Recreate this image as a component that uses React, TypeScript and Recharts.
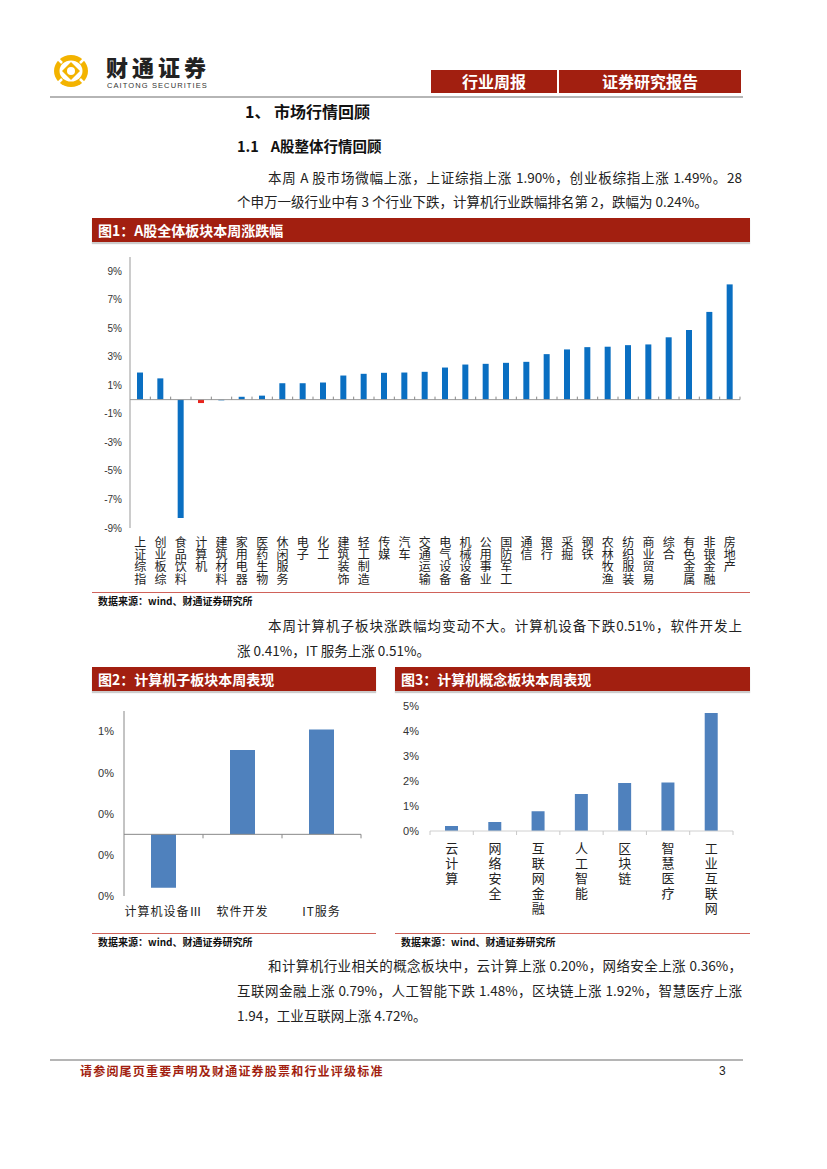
import React from "react";
import { BarChart, Bar, XAxis, YAxis, Cell, ReferenceLine } from "recharts";

// 图1 数据
const sectors = [
  "上证综指", "创业板综", "食品饮料", "计算机", "建筑材料", "家用电器", "医药生物", "休闲服务",
  "电子", "化工", "建筑装饰", "轻工制造", "传媒", "汽车", "交通运输", "电气设备", "机械设备",
  "公用事业", "国防军工", "通信", "银行", "采掘", "钢铁", "农林牧渔", "纺织服装", "商业贸易",
  "综合", "有色金属", "非银金融", "房地产",
];
const sectorChg = [
  1.9, 1.49, -8.3, -0.24, -0.05, 0.2, 0.28, 1.15, 1.15, 1.2, 1.69, 1.81, 1.88, 1.9, 1.95, 2.25, 2.46,
  2.51, 2.58, 2.65, 3.19, 3.52, 3.68, 3.71, 3.82, 3.87, 4.37, 4.88, 6.15, 8.08,
];
const sectorTicks = [-9, -7, -5, -3, -1, 1, 3, 5, 7, 9];

// 图2 数据
const subSectors = ["计算机设备Ⅲ", "软件开发", "IT服务"];
const subChg = [-0.26, 0.41, 0.51];
const subTicks = [-0.3, -0.1, 0.1, 0.3, 0.5];

// 图3 数据
const concepts = ["云计算", "网络安全", "互联网金融", "人工智能", "区块链", "智慧医疗", "工业互联网"];
const conceptChg = [0.2, 0.36, 0.79, 1.48, 1.92, 1.94, 4.72];
const conceptTicks = [0, 1, 2, 3, 4, 5];

const RED = "#A21F10";
const CJK = '"Noto Sans CJK SC", sans-serif';
const LATIN = '"Liberation Sans", Arial, sans-serif';

const data1 = sectors.map((name, i) => ({ name, value: sectorChg[i] }));
const data2 = subSectors.map((name, i) => ({ name, value: subChg[i] }));
const data3 = concepts.map((name, i) => ({ name, value: conceptChg[i] }));

// chart 1 layout
const C1 = { w: 680, h: 345, m: { top: 7, right: 20, bottom: 7, left: 0 }, yw: 50, xh: 60 };
const C1_PH = C1.h - C1.m.top - C1.m.bottom - C1.xh;
const C1_PW = C1.w - C1.m.left - C1.m.right - C1.yw;
// chart 2 layout
const C2 = { w: 300, h: 230, m: { top: 11, right: 19, bottom: 6, left: 0 }, yw: 44, xh: 28 };
const C2_PH = C2.h - C2.m.top - C2.m.bottom - C2.xh;
const C2_PW = C2.w - C2.m.left - C2.m.right - C2.yw;
// chart 3 layout
const C3 = { w: 370, h: 230, m: { top: 11, right: 27, bottom: 6, left: 0 }, yw: 40, xh: 88 };
const C3_PW = C3.w - C3.m.left - C3.m.right - C3.yw;

// vertical (top-to-bottom) category label plus a tick mark on the category boundary
function VerticalTick(props: any) {
  const { x, y, payload, index, fontSize, spacing, dy, half, zeroUp, markLen, markDir, color, first } = props;
  const zy = y - zeroUp;
  return (
    <g>
      <line x1={x + half} x2={x + half} y1={zy} y2={zy + markDir * markLen} stroke={color} strokeWidth={1} />
      {first && index === 0 ? (
        <line x1={x - half} x2={x - half} y1={zy} y2={zy + markDir * markLen} stroke={color} strokeWidth={1} />
      ) : null}
      <text
        x={x}
        y={y + dy}
        textAnchor="start"
        fontSize={fontSize}
        fill="#222"
        fontFamily={CJK}
        letterSpacing={spacing}
        style={{ writingMode: "vertical-rl" as any }}
      >
        {payload.value}
      </text>
    </g>
  );
}

function FlatTick(props: any) {
  const { x, y, payload, half, zeroUp } = props;
  const zy = y - zeroUp;
  return (
    <g>
      <line x1={x + half} x2={x + half} y1={zy} y2={zy + 4} stroke="#888" strokeWidth={1} />
      <text x={x} y={y + 20} textAnchor="middle" fontSize={12} fill="#222" fontFamily={CJK} letterSpacing={1}>
        {payload.value}
      </text>
    </g>
  );
}

function Logo() {
  return (
    <svg width={36} height={34} viewBox="0 0 36 34" style={{ position: "absolute", left: 53, top: 54 }}>
      <ellipse cx={18} cy={17} rx={17} ry={16} fill="#F3B300" />
      <ellipse cx={18} cy={17} rx={11.5} ry={10.5} fill="#fff" />
      <polygon points="18,8 27,17 18,26 9,17" fill="#F3B300" />
      <circle cx={18} cy={17} r={4} fill="#fff" />
      <line x1={3} y1={3} x2={9} y2={9} stroke="#fff" strokeWidth={2.5} />
      <line x1={33} y1={3} x2={27} y2={9} stroke="#fff" strokeWidth={2.5} />
      <line x1={3} y1={31} x2={9} y2={25} stroke="#fff" strokeWidth={2.5} />
      <line x1={33} y1={31} x2={27} y2={25} stroke="#fff" strokeWidth={2.5} />
    </svg>
  );
}

const abs = (left: number, top: number, extra: React.CSSProperties = {}): React.CSSProperties => ({
  position: "absolute",
  left,
  top,
  ...extra,
});

function TitleBar({ left, top, width, text }: { left: number; top: number; width: number; text: string }) {
  return (
    <div
      style={abs(left, top, {
        width,
        height: 24,
        background: RED,
        color: "#fff",
        fontFamily: CJK,
        fontWeight: 700,
        fontSize: 14,
        lineHeight: "24px",
        paddingLeft: 6,
        boxSizing: "border-box",
        boxShadow: "0 2px 1px #ccc",
      })}
    >
      {text}
    </div>
  );
}

function Source({ left, top, width }: { left: number; top: number; width: number }) {
  return (
    <>
      <div style={abs(left, top, { width, height: 0, borderTop: "1.5px solid #D0625A" })} />
      <div style={abs(left + 6, top + 2, { fontFamily: CJK, fontWeight: 700, fontSize: 10, color: "#111", lineHeight: "14px" })}>
        数据来源：wind、财通证券研究所
      </div>
    </>
  );
}

const paraStyle: React.CSSProperties = {
  fontFamily: CJK,
  fontSize: 13.5,
  color: "#222",
  lineHeight: "20px",
  whiteSpace: "nowrap",
};

function Line({ left, top, width, text, justify }: { left: number; top: number; width?: number; text: string; justify?: boolean }) {
  return (
    <div
      style={abs(left, top - 10, {
        ...paraStyle,
        width,
        textAlign: justify ? "justify" : "left",
        textAlignLast: justify ? "justify" : "auto",
      })}
    >
      {text}
    </div>
  );
}

export default function App() {
  const c1Unit = C1_PH / 19;
  const c2Unit = C2_PH / 0.9;
  return (
    <div style={{ position: "absolute", left: 0, top: 0, width: 827, height: 1169, background: "#fff", overflow: "hidden" }}>
      {/* 页眉 */}
      <Logo />
      <div
        style={abs(106, 57.5, {
          fontFamily: '"Liberation Sans", "Noto Sans CJK SC", sans-serif',
          fontWeight: 900,
          fontSize: 22,
          letterSpacing: 4,
          color: "#222",
          lineHeight: "22px",
        })}
      >
        财通证券
      </div>
      <div style={abs(107, 82, { fontFamily: LATIN, fontSize: 7.5, letterSpacing: 1.1, color: "#333", lineHeight: "8px" })}>
        CAITONG SECURITIES
      </div>
      <div style={abs(431, 70, { width: 126, height: 23, background: RED, color: "#fff", fontFamily: CJK, fontWeight: 700, fontSize: 16, lineHeight: "23px", textAlign: "center" })}>
        行业周报
      </div>
      <div style={abs(559, 70, { width: 182, height: 23, background: RED, color: "#fff", fontFamily: CJK, fontWeight: 700, fontSize: 16, lineHeight: "23px", textAlign: "center" })}>
        证券研究报告
      </div>
      <div style={abs(50, 96, { width: 693, height: 2, background: "#B5B5B5" })} />

      {/* 标题 */}
      <div style={abs(245, 100, { fontFamily: CJK, fontWeight: 700, fontSize: 16, lineHeight: "22px", color: "#111" })}>1、 市场行情回顾</div>
      <div style={abs(237, 136, { fontFamily: CJK, fontWeight: 700, fontSize: 14.5, lineHeight: "20px", color: "#111" })}>
        1.1<span style={{ marginLeft: 12 }}>A股整体行情回顾</span>
      </div>
      <Line left={268} top={177} width={474} justify text="本周 A 股市场微幅上涨，上证综指上涨 1.90%，创业板综指上涨 1.49%。28" />
      <Line left={237} top={201} text="个申万一级行业中有 3 个行业下跌，计算机行业跌幅排名第 2，跌幅为 0.24%。" />

      {/* 图1 */}
      <TitleBar left={92} top={218} width={658} text="图1：A股全体板块本周涨跌幅" />
      <div style={abs(80, 250)}>
        <BarChart width={C1.w} height={C1.h} data={data1} margin={C1.m}>
          <XAxis
            dataKey="name"
            interval={0}
            height={C1.xh}
            axisLine={false}
            tickLine={false}
            tickSize={0}
            tickMargin={0}
            tick={(p: any) => (
              <VerticalTick
                {...p}
                fontSize={12}
                spacing={0.4}
                dy={8}
                half={C1_PW / sectors.length / 2}
                zeroUp={9 * c1Unit}
                markLen={3}
                markDir={-1}
                color="#888"
              />
            )}
          />
          <YAxis
            width={C1.yw}
            domain={[-9, 10]}
            ticks={sectorTicks}
            interval={0}
            axisLine={{ stroke: "#999" }}
            tickLine={false}
            tickSize={0}
            tickMargin={8}
            tick={{ fontSize: 10, fill: "#333", fontFamily: LATIN }}
            tickFormatter={(v: number) => `${v}%`}
          />
          <ReferenceLine y={0} stroke="#999" strokeWidth={1} />
          <Bar dataKey="value" barSize={6} isAnimationActive={false}>
            {data1.map((d) => (
              <Cell key={d.name} fill={d.name === "计算机" ? "#E8231C" : "#0A6FC2"} />
            ))}
          </Bar>
        </BarChart>
      </div>
      <Source left={92} top={592} width={658} />

      <Line left={268} top={625} width={474} justify text="本周计算机子板块涨跌幅均变动不大。计算机设备下跌0.51%，软件开发上" />
      <Line left={237} top={650} text="涨 0.41%，IT 服务上涨 0.51%。" />

      {/* 图2 */}
      <TitleBar left={92} top={667} width={284} text="图2：计算机子板块本周表现" />
      <div style={abs(80, 700)}>
        <BarChart width={C2.w} height={C2.h} data={data2} margin={C2.m}>
          <XAxis
            dataKey="name"
            interval={0}
            height={C2.xh}
            axisLine={false}
            tickLine={false}
            tickSize={0}
            tickMargin={0}
            tick={(p: any) => <FlatTick {...p} half={C2_PW / subSectors.length / 2} zeroUp={0.3 * c2Unit} />}
          />
          <YAxis
            width={C2.yw}
            domain={[-0.3, 0.6]}
            ticks={subTicks}
            interval={0}
            axisLine={{ stroke: "#888" }}
            tickLine={false}
            tickSize={0}
            tickMargin={10}
            tick={{ fontSize: 11, fill: "#333", fontFamily: LATIN }}
            tickFormatter={(v: number) => `${Math.round(v) === 0 ? 0 : Math.round(v)}%`}
          />
          <ReferenceLine y={0} stroke="#888" strokeWidth={1} />
          <Bar dataKey="value" barSize={25} fill="#4F81BD" isAnimationActive={false} />
        </BarChart>
      </div>

      {/* 图3 */}
      <TitleBar left={395} top={667} width={355} text="图3：计算机概念板块本周表现" />
      <div style={abs(390, 695)}>
        <BarChart width={C3.w} height={C3.h} data={data3} margin={C3.m}>
          <XAxis
            dataKey="name"
            interval={0}
            height={C3.xh}
            axisLine={{ stroke: "#D0D0D0" }}
            tickLine={false}
            tickSize={0}
            tickMargin={0}
            tick={(p: any) => (
              <VerticalTick
                {...p}
                fontSize={13}
                spacing={2}
                dy={10.5}
                half={C3_PW / concepts.length / 2}
                zeroUp={0}
                markLen={4}
                markDir={1}
                color="#C8C8C8"
                first
              />
            )}
          />
          <YAxis
            width={C3.yw}
            domain={[0, 5]}
            ticks={conceptTicks}
            interval={0}
            axisLine={false}
            tickLine={false}
            tickSize={0}
            tickMargin={11}
            tick={{ fontSize: 11, fill: "#333", fontFamily: LATIN }}
            tickFormatter={(v: number) => `${v}%`}
          />
          <Bar dataKey="value" barSize={13} fill="#4F81BD" isAnimationActive={false} />
        </BarChart>
      </div>

      <Source left={92} top={933} width={284} />
      <Source left={395} top={933} width={355} />

      <Line left={268} top={965} width={474} justify text="和计算机行业相关的概念板块中，云计算上涨 0.20%，网络安全上涨 0.36%，" />
      <Line left={237} top={990} width={505} justify text="互联网金融上涨 0.79%，人工智能下跌 1.48%，区块链上涨 1.92%，智慧医疗上涨" />
      <Line left={237} top={1015} text="1.94，工业互联网上涨 4.72%。" />

      {/* 页脚 */}
      <div style={abs(50, 1059, { width: 693, height: 1.5, background: "#B5B5B5" })} />
      <div style={abs(80, 1063, { fontFamily: CJK, fontWeight: 700, fontSize: 12, letterSpacing: 1.2, color: RED, lineHeight: "16px" })}>
        请参阅尾页重要声明及财通证券股票和行业评级标准
      </div>
      <div style={abs(719, 1063, { fontFamily: LATIN, fontSize: 12, color: "#222", lineHeight: "16px" })}>3</div>
    </div>
  );
}
